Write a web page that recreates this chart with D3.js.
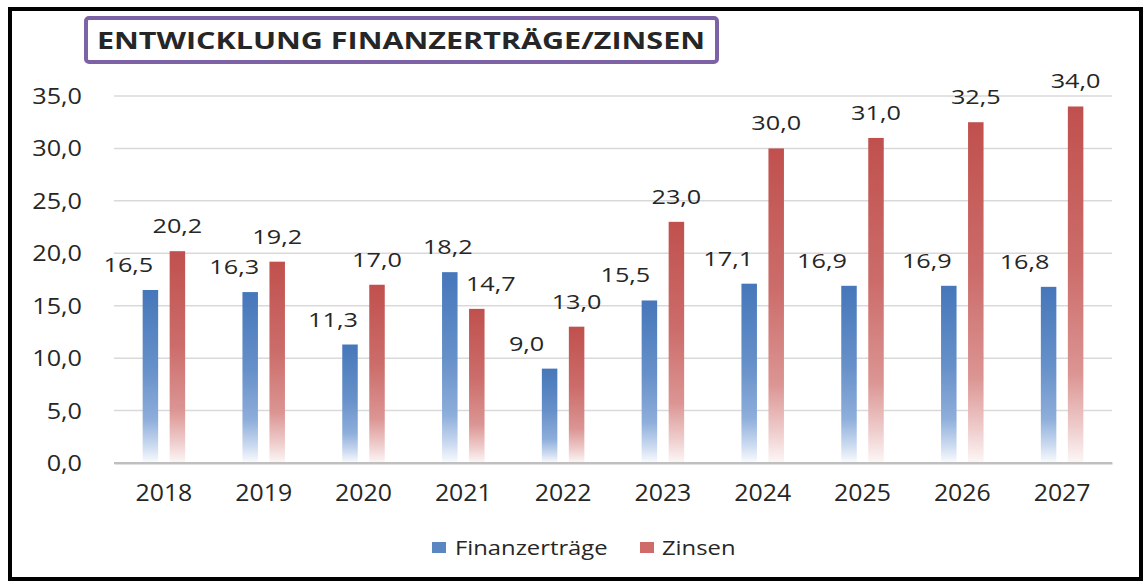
<!DOCTYPE html>
<html>
<head>
<meta charset="utf-8">
<script src="https://cdn.jsdelivr.net/npm/d3@7"></script>
<style>
  html, body { margin: 0; padding: 0; background: #fff; }
  svg { display: block; }
  text { font-family: "Open Sans", sans-serif; fill: #262626; }
</style>
</head>
<body>
<svg id="chart" width="1145" height="583"></svg>
<script>
// ---- data ----
const title = "ENTWICKLUNG FINANZERTRÄGE/ZINSEN";
const years = ["2018","2019","2020","2021","2022","2023","2024","2025","2026","2027"];
const finanzertraege = [16.5, 16.3, 11.3, 18.2, 9.0, 15.5, 17.1, 16.9, 16.9, 16.8];
const zinsen = [20.2, 19.2, 17.0, 14.7, 13.0, 23.0, 30.0, 31.0, 32.5, 34.0];
const seriesNames = ["Finanzerträge", "Zinsen"];
const yTicks = [0, 5, 10, 15, 20, 25, 30, 35];
// label horizontal nudges (layout, px) as placed in the original
const blueLabelShift = [-22, -16, -17, -2, -23, -24, -21, -27, -22, -24];
const redLabelShift  = [0, 0, 0, 14, 0, 0, 0, 0, 0, 0];

const fmt = v => v.toFixed(1).replace(".", ",");

const svg = d3.select("#chart");
const W = 1145, H = 583;

// outer black frame
svg.append("rect").attr("x", 10).attr("y", 9).attr("width", 1131).attr("height", 570)
  .attr("fill", "#fff").attr("stroke", "#000").attr("stroke-width", 4);

// gradients (per bar bounding box)
const defs = svg.append("defs");
function grad(id, stops) {
  const g = defs.append("linearGradient").attr("id", id)
    .attr("x1", 0).attr("y1", 0).attr("x2", 0).attr("y2", 1);
  stops.forEach(s => g.append("stop").attr("offset", s[0]).attr("stop-color", s[1]));
}
grad("gBlue", [[0, "#4677ba"], [0.45, "#6690c9"], [0.75, "#8eaedb"], [0.9, "#cbdaf0"], [1, "#fbfcfe"]]);
grad("gRed",  [[0, "#c0504d"], [0.45, "#cc6d6b"], [0.75, "#db9593"], [0.9, "#efcccc"], [1, "#fdf7f7"]]);

// helper to stretch text horizontally
function stretch(sel, f) {
  sel.each(function() {
    const len = this.getComputedTextLength();
    d3.select(this).attr("textLength", len * f).attr("lengthAdjust", "spacingAndGlyphs");
  });
}

// scales
const x0 = d3.scaleBand().domain(years).range([114, 1112]);
const y = d3.scaleLinear().domain([0, 35]).range([463, 96]);
const barW = 15.5, off = 13.5;

// gridlines
const grid = svg.append("g");
grid.selectAll("line").data(yTicks.filter(t => t > 0)).join("line")
  .attr("x1", 114).attr("x2", 1112)
  .attr("y1", d => y(d)).attr("y2", d => y(d))
  .attr("stroke", "#d9d9d9").attr("stroke-width", 1.5);

// y axis labels via d3 axis
const yAxis = svg.append("g").attr("transform", "translate(84,0)")
  .call(d3.axisLeft(y).tickValues(yTicks).tickSize(0).tickPadding(2).tickFormat(fmt));
yAxis.select(".domain").remove();
yAxis.selectAll("text").attr("font-size", 21).attr("font-family", "Open Sans").attr("fill", "#262626")
  .attr("dy", "0.36em");
stretch(yAxis.selectAll("text"), 1.2);

// x axis labels
const xAxis = svg.append("g").attr("transform", "translate(0,463)")
  .call(d3.axisBottom(x0).tickSize(0).tickPadding(22));
xAxis.select(".domain").attr("stroke", "#bfbfbf").attr("stroke-width", 2);
xAxis.selectAll("text").attr("font-size", 23).attr("font-family", "Open Sans").attr("fill", "#262626");
stretch(xAxis.selectAll("text"), 1.08);

// bars
const rows = years.map((yr, i) => ({ yr, i, b: finanzertraege[i], r: zinsen[i] }));
const bars = svg.append("g");
bars.selectAll("rect.b").data(rows).join("rect").attr("class", "b")
  .attr("x", d => x0(d.yr) + x0.bandwidth() / 2 - off - barW / 2)
  .attr("y", d => y(d.b)).attr("width", barW).attr("height", d => y(0) - y(d.b))
  .attr("fill", "url(#gBlue)");
bars.selectAll("rect.r").data(rows).join("rect").attr("class", "r")
  .attr("x", d => x0(d.yr) + x0.bandwidth() / 2 + off - barW / 2)
  .attr("y", d => y(d.r)).attr("width", barW).attr("height", d => y(0) - y(d.r))
  .attr("fill", "url(#gRed)");
// redraw baseline over bars
svg.append("line").attr("x1", 114).attr("x2", 1112).attr("y1", y(0)).attr("y2", y(0))
  .attr("stroke", "#bfbfbf").attr("stroke-width", 2);

// value labels
const lab = svg.append("g").attr("font-size", 20.5).attr("text-anchor", "middle");
const lb = lab.selectAll("text.b").data(rows).join("text").attr("class", "b")
  .attr("x", d => x0(d.yr) + x0.bandwidth() / 2 - off + blueLabelShift[d.i])
  .attr("y", d => y(d.b) - 18).text(d => fmt(d.b));
const lr = lab.selectAll("text.r").data(rows).join("text").attr("class", "r")
  .attr("x", d => x0(d.yr) + x0.bandwidth() / 2 + off + redLabelShift[d.i])
  .attr("y", d => y(d.r) - 18).text(d => fmt(d.r));
stretch(lb, 1.23); stretch(lr, 1.23);

// title box
svg.append("rect").attr("x", 86).attr("y", 18).attr("width", 631).attr("height", 44)
  .attr("rx", 3).attr("fill", "#fff").attr("stroke", "#7e62a6").attr("stroke-width", 4);
svg.append("text").attr("x", 97).attr("y", 49).attr("font-size", 23).attr("font-weight", "bold")
  .attr("fill", "#111").attr("textLength", 608).attr("lengthAdjust", "spacingAndGlyphs")
  .text(title);

// legend
const leg = svg.append("g");
const legItems = [
  { name: seriesNames[0], fill: "url(#gBlue)", sx: 432, tx: 455 },
  { name: seriesNames[1], fill: "url(#gRed)", sx: 640, tx: 662 }
];
const legColors = ["#5a86c2", "#cf6b69"];
leg.selectAll("rect").data(legItems).join("rect")
  .attr("x", d => d.sx).attr("y", 542).attr("width", 14).attr("height", 11)
  .attr("fill", (d, i) => legColors[i]);
const lt = leg.selectAll("text").data(legItems).join("text")
  .attr("x", d => d.tx).attr("y", 555).attr("font-size", 19.5).text(d => d.name);
stretch(lt, 1.22);
</script>
</body>
</html>
